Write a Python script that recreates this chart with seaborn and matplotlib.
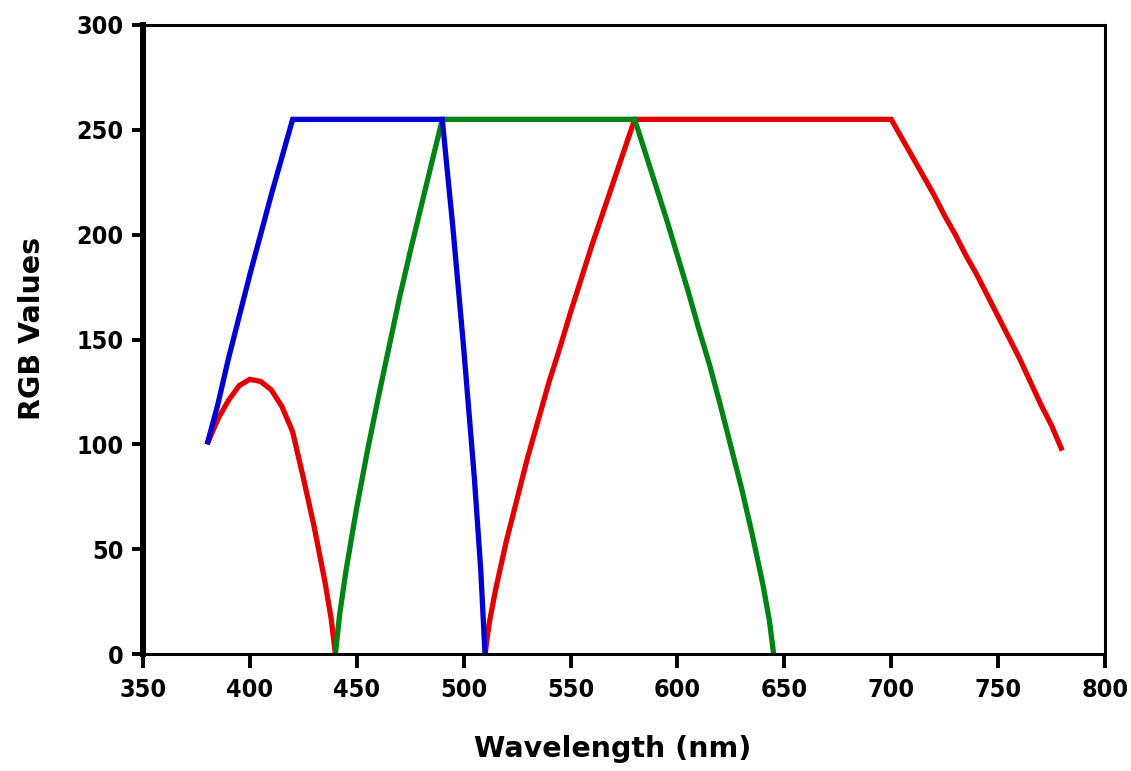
import matplotlib
matplotlib.use("Agg")
import matplotlib.pyplot as plt
import seaborn as sns
import pandas as pd

# ---- data ----
red_wl_a = [380, 385, 390, 395, 400, 405, 410, 415, 420, 425, 430, 435, 438, 440]
red_val_a = [100, 112, 121, 128, 131, 130, 126, 118, 106, 84, 61, 35, 17, 0]

red_wl_b = [510, 512, 515, 520, 525, 530, 535, 540, 545, 550, 555, 560, 565, 570, 575, 580,
            700, 705, 710, 715, 720, 725, 730, 735, 740, 745, 750, 755, 760, 765, 770, 775, 780]
red_val_b = [0, 15, 31, 54, 74, 94, 112, 130, 146, 163, 179, 195, 210, 225, 240, 255,
             255, 246, 237, 228, 219, 209, 200, 190, 181, 171, 161, 151, 141, 130, 119, 109, 97]

green_wl = [440, 442, 445, 450, 455, 460, 465, 470, 475, 480, 485, 490,
            580, 585, 590, 595, 600, 605, 610, 615, 620, 625, 630, 635, 640, 643, 645]
green_val = [0, 19, 40, 70, 97, 122, 146, 170, 192, 213, 234, 255,
             255, 239, 223, 207, 190, 173, 155, 138, 119, 99, 79, 57, 33, 16, 0]

blue_wl = [380, 385, 390, 395, 400, 405, 410, 415, 420, 490, 492, 495, 500, 505, 508, 510]
blue_val = [100, 119, 141, 161, 181, 200, 219, 237, 255, 255, 234, 203, 146, 84, 40, 0]

x_ticks = [350, 400, 450, 500, 550, 600, 650, 700, 750, 800]
y_ticks = [0, 50, 100, 150, 200, 250, 300]

series_colors = {"red_a": "#E00000", "red_b": "#E00000", "green": "#008214", "blue": "#0000D2"}

frames = []
for name, wl, val in [("red_a", red_wl_a, red_val_a), ("red_b", red_wl_b, red_val_b),
                      ("green", green_wl, green_val), ("blue", blue_wl, blue_val)]:
    frames.append(pd.DataFrame({"wavelength": wl, "value": val, "series": name}))
df = pd.concat(frames, ignore_index=True)

sns.set_style("white")
plt.rcParams["font.family"] = ["DejaVu Sans"]
plt.rcParams["text.color"] = "black"
plt.rcParams["axes.labelcolor"] = "black"

fig = plt.figure(figsize=(11.31, 7.71), dpi=100)
ax = fig.add_axes([143 / 1131, 1 - 654 / 771, (1105 - 143) / 1131, (654 - 25) / 771])

sns.lineplot(data=df, x="wavelength", y="value", hue="series",
             hue_order=["red_a", "red_b", "green", "blue"], palette=series_colors,
             units="series", estimator=None, sort=False, legend=False,
             linewidth=3.8, ax=ax)
for ln in ax.get_lines():
    ln.set_solid_capstyle("butt")
    ln.set_solid_joinstyle("miter")

ax.set_xlim(350, 800)
ax.set_ylim(0, 300)
ax.set_xticks(x_ticks)
ax.set_yticks(y_ticks)
ax.set_xticklabels([str(t) for t in x_ticks])
ax.set_yticklabels([str(t) for t in y_ticks])

for side, lw in [("left", 4.3), ("bottom", 2.2), ("top", 2.2), ("right", 2.2)]:
    ax.spines[side].set_visible(True)
    ax.spines[side].set_color("black")
    ax.spines[side].set_linewidth(lw)

ax.tick_params(axis="x", direction="out", length=10, width=2.8, pad=7,
               labelsize=18, colors="black", bottom=True)
ax.tick_params(axis="y", direction="out", length=8, width=2.8, pad=6,
               labelsize=18, colors="black", left=True)
for lab in ax.get_xticklabels() + ax.get_yticklabels():
    lab.set_fontweight("bold")
    lab.set_fontstretch("condensed")
    lab.set_color("black")

ax.set_xlabel("Wavelength (nm)", fontsize=20.5, fontweight="heavy", color="black")
ax.set_ylabel("RGB Values", fontsize=20.5, fontweight="heavy", color="black")
ax.xaxis.set_label_coords((613 - 143) / (1105 - 143), -(735 - 654) / (654 - 25))
ax.yaxis.set_label_coords(-(143 - 46) / (1105 - 143), (654 - 328) / (654 - 25))
ax.grid(False)

fig.savefig("out.png", dpi=100, facecolor="white")
